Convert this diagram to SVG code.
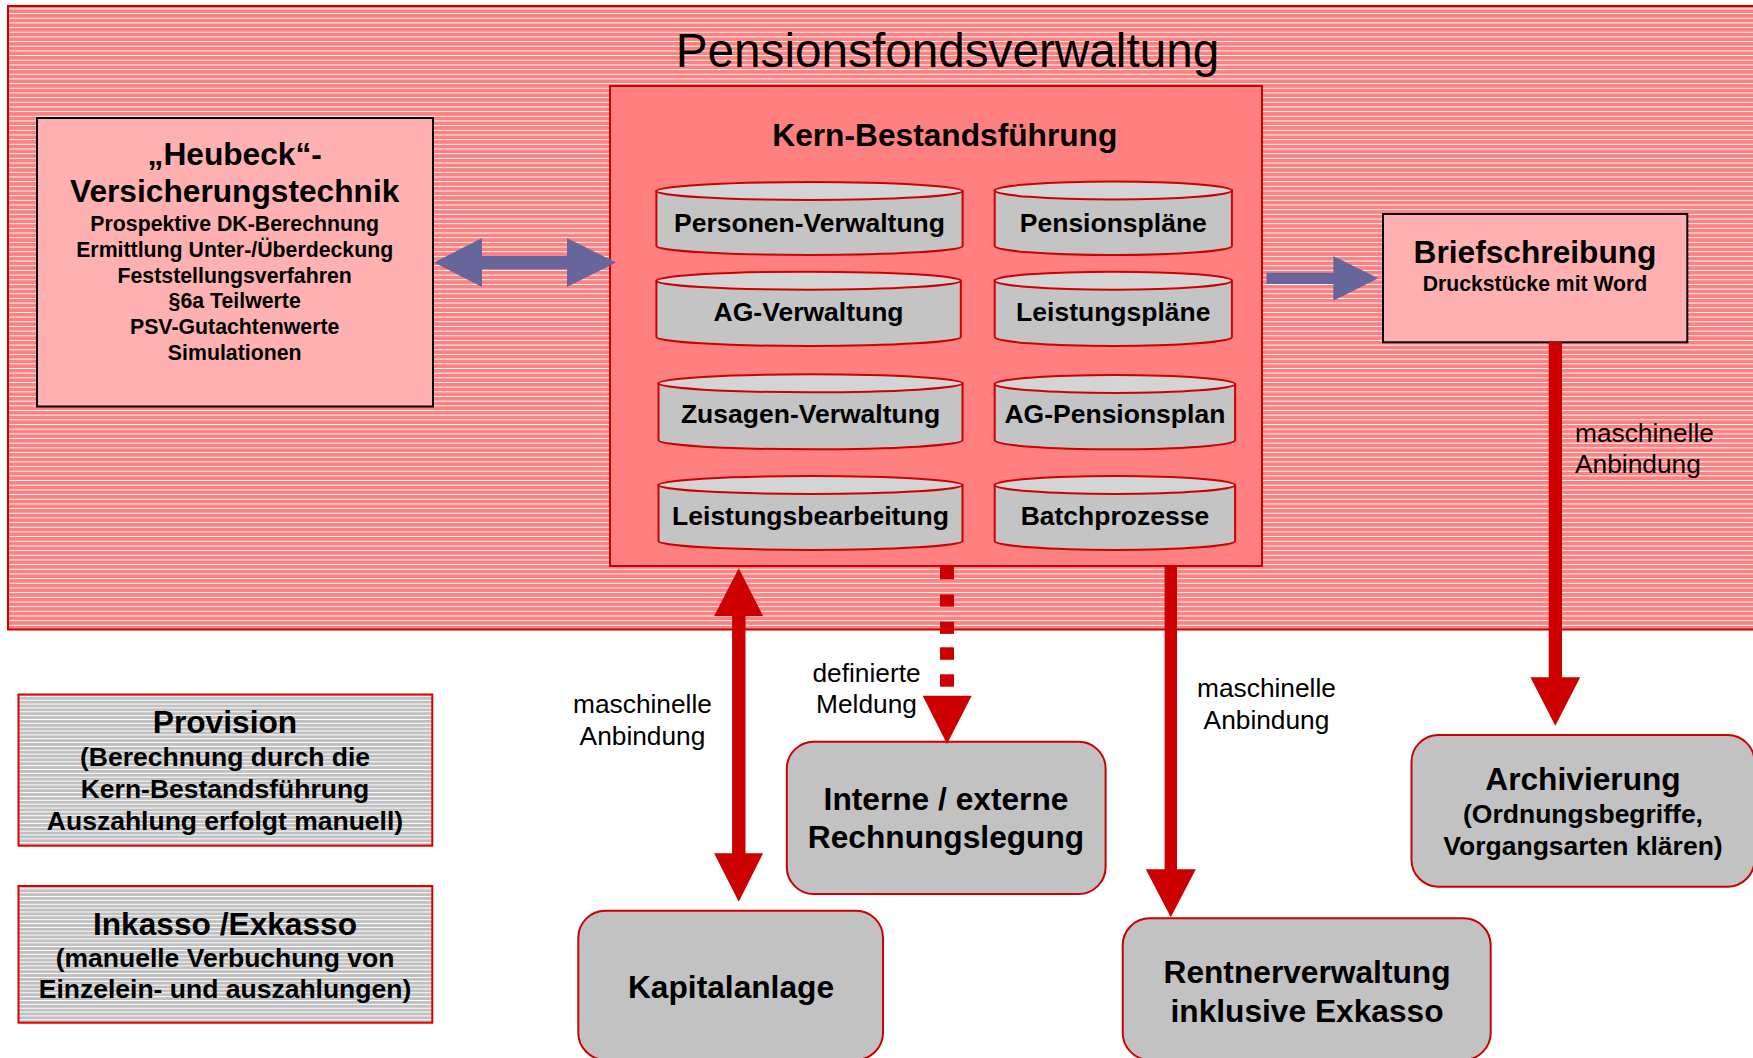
<svg xmlns="http://www.w3.org/2000/svg" width="1753" height="1058" viewBox="0 0 1753 1058">
<defs>
  <pattern id="hatchRed" patternUnits="userSpaceOnUse" x="0" y="0" width="20" height="4.67">
    <rect width="20" height="4.67" fill="#FF8080" shape-rendering="crispEdges"/>
    <rect y="3.4" width="20" height="1.1" fill="#FFFFFF" shape-rendering="crispEdges"/>
  </pattern>
  <pattern id="hatchGray" patternUnits="userSpaceOnUse" x="0" y="0" width="20" height="3.85">
    <rect width="20" height="3.85" fill="#C0C0C0" shape-rendering="crispEdges"/>
    <rect y="2.8" width="20" height="1" fill="#FFFFFF" shape-rendering="crispEdges"/>
  </pattern>
  <style>
    text { font-family: "Liberation Sans", Arial, Helvetica, sans-serif; fill: #000; text-anchor: middle; }
    .h { font-size: 31.7px; font-weight: bold; }
    .sub { font-size: 21.3px; font-weight: bold; }
    .s26 { font-size: 26.5px; font-weight: bold; }
    .lbl { font-size: 26.3px; font-weight: normal; }
    .cylBody { fill: #C4C4C4; stroke: #CC0000; stroke-width: 2; }
    .cylTop { fill: #D4D4D4; stroke: #CC0000; stroke-width: 2; }
    .pinkBox { fill: #FFB0B0; stroke: #000; stroke-width: 2; }
    .grayBox { fill: url(#hatchGray); stroke: #DD0000; stroke-width: 2; }
    .round { fill: #C2C2C2; stroke: #CC0000; stroke-width: 2; }
    .blue { fill: #66669C; }
    .red { fill: #CC0000; }
  </style>
</defs>

<rect width="1753" height="1058" fill="#FFFFFF"/>

<g id="pensionsfondsverwaltung">
  <rect x="8" y="6" width="1760" height="623.5" fill="url(#hatchRed)" stroke="#CC0000" stroke-width="2"/>
  <text x="947.5" y="66.7" style="font-size:47.7px">Pensionsfondsverwaltung</text>
</g>

<g id="heubeck">
  <rect class="pinkBox" x="37" y="118" width="396" height="288.5"/>
  <text class="h" x="234.7" y="165">„Heubeck“-</text>
  <text class="h" x="234.7" y="202.3">Versicherungstechnik</text>
  <text class="sub" x="234.7" y="230.5">Prospektive DK-Berechnung</text>
  <text class="sub" x="234.7" y="256.5">Ermittlung Unter-/Überdeckung</text>
  <text class="sub" x="234.7" y="282.5">Feststellungsverfahren</text>
  <text class="sub" x="234.7" y="308.3">§6a Teilwerte</text>
  <text class="sub" x="234.7" y="334">PSV-Gutachtenwerte</text>
  <text class="sub" x="234.7" y="359.5">Simulationen</text>
</g>

<g id="kern-bestandsfuehrung">
  <rect x="610" y="86" width="652" height="480" fill="#FF8080" stroke="#CC0000" stroke-width="2"/>
  <text class="h" x="944.8" y="145.7">Kern-Bestandsführung</text>
</g>

<g id="cyl-personen">
  <path class="cylBody" d="M656.4,191 L656.4,246 A153.1,9 0 0 0 962.6,246 L962.6,191 Z"/>
  <ellipse class="cylTop" cx="809.5" cy="191" rx="153.1" ry="9"/>
  <text class="s26" x="809.5" y="231.7">Personen-Verwaltung</text>
</g>
<g id="cyl-pensionsplaene">
  <path class="cylBody" d="M994.7,190.5 L994.7,246 A118.6,9 0 0 0 1231.9,246 L1231.9,190.5 Z"/>
  <ellipse class="cylTop" cx="1113.3" cy="190.5" rx="118.6" ry="9"/>
  <text class="s26" x="1113.3" y="231.7">Pensionspläne</text>
</g>
<g id="cyl-ag-verwaltung">
  <path class="cylBody" d="M656.4,280.7 L656.4,337 A152.2,9 0 0 0 960.8,337 L960.8,280.7 Z"/>
  <ellipse class="cylTop" cx="808.6" cy="280.7" rx="152.2" ry="9"/>
  <text class="s26" x="808.6" y="320.7">AG-Verwaltung</text>
</g>
<g id="cyl-leistungsplaene">
  <path class="cylBody" d="M994.7,280.7 L994.7,337 A118.6,9 0 0 0 1231.9,337 L1231.9,280.7 Z"/>
  <ellipse class="cylTop" cx="1113.3" cy="280.7" rx="118.6" ry="9"/>
  <text class="s26" x="1113.3" y="320.7">Leistungspläne</text>
</g>
<g id="cyl-zusagen">
  <path class="cylBody" d="M658.5,383.3 L658.5,440.3 A152,9 0 0 0 962.5,440.3 L962.5,383.3 Z"/>
  <ellipse class="cylTop" cx="810.5" cy="383.3" rx="152" ry="9"/>
  <text class="s26" x="810.5" y="423.3">Zusagen-Verwaltung</text>
</g>
<g id="cyl-ag-pensionsplan">
  <path class="cylBody" d="M994.7,384 L994.7,440.3 A120.2,9 0 0 0 1235.1,440.3 L1235.1,384 Z"/>
  <ellipse class="cylTop" cx="1114.9" cy="384" rx="120.2" ry="9"/>
  <text class="s26" x="1114.9" y="423.3">AG-Pensionsplan</text>
</g>
<g id="cyl-leistungsbearbeitung">
  <path class="cylBody" d="M658.5,485 L658.5,541 A152,9 0 0 0 962.5,541 L962.5,485 Z"/>
  <ellipse class="cylTop" cx="810.5" cy="485" rx="152" ry="9"/>
  <text class="s26" x="810.5" y="525">Leistungsbearbeitung</text>
</g>
<g id="cyl-batchprozesse">
  <path class="cylBody" d="M994.7,485 L994.7,541 A120.2,9 0 0 0 1235.1,541 L1235.1,485 Z"/>
  <ellipse class="cylTop" cx="1114.9" cy="485" rx="120.2" ry="9"/>
  <text class="s26" x="1114.9" y="525">Batchprozesse</text>
</g>

<g id="briefschreibung">
  <rect class="pinkBox" x="1383" y="214" width="304.3" height="128.3"/>
  <text class="h" x="1535" y="263.3">Briefschreibung</text>
  <text class="sub" x="1535" y="291" style="font-size:21.2px">Druckstücke mit Word</text>
</g>

<g id="provision">
  <rect class="grayBox" x="18.5" y="694.5" width="413.8" height="151.2"/>
  <text class="h" x="225" y="733.3">Provision</text>
  <text class="s26" x="225" y="766">(Berechnung durch die</text>
  <text class="s26" x="225" y="798.3">Kern-Bestandsführung</text>
  <text class="s26" x="225" y="830">Auszahlung erfolgt manuell)</text>
</g>

<g id="inkasso-exkasso">
  <rect class="grayBox" x="18.5" y="886" width="413.8" height="136.7"/>
  <text class="h" x="225" y="935">Inkasso /Exkasso</text>
  <text class="s26" x="225" y="966.7">(manuelle Verbuchung von</text>
  <text class="s26" x="225" y="998.3">Einzelein- und auszahlungen)</text>
</g>

<g id="rechnungslegung">
  <rect class="round" x="786.8" y="741.7" width="318.8" height="152.3" rx="27" ry="27"/>
  <text class="h" x="946" y="810">Interne / externe</text>
  <text class="h" x="946" y="848.3">Rechnungslegung</text>
</g>

<g id="kapitalanlage">
  <rect class="round" x="578.3" y="910.7" width="304.7" height="149" rx="27" ry="27"/>
  <text class="h" x="731" y="998.3">Kapitalanlage</text>
</g>

<g id="rentnerverwaltung">
  <rect class="round" x="1122.7" y="918.3" width="368" height="141.5" rx="27" ry="27"/>
  <text class="h" x="1307" y="983.3">Rentnerverwaltung</text>
  <text class="h" x="1307" y="1021.7">inklusive Exkasso</text>
</g>

<g id="archivierung">
  <rect class="round" x="1411.5" y="735" width="343" height="151.7" rx="27" ry="27"/>
  <text class="h" x="1583" y="790">Archivierung</text>
  <text class="s26" x="1583" y="823.3">(Ordnungsbegriffe,</text>
  <text class="s26" x="1583" y="855">Vorgangsarten klären)</text>
</g>

<g id="connectors">
  <polygon class="blue" points="434,262.5 482,238 482,256 567,256 567,238 616,262.5 567,287 567,269.3 482,269.3 482,287"/>
  <polygon class="blue" points="1266.5,272.7 1333.3,272.7 1333.3,256 1378.3,278.3 1333.3,300.7 1333.3,284 1266.5,284"/>
  <polygon class="red" points="738.8,568.3 763.1,616 745.5,616 745.5,853.3 763.1,853.3 738.8,901.7 714.1,853.3 732.1,853.3 732.1,616 714.1,616"/>
  <g class="red">
    <rect x="940" y="566.7" width="14" height="12.6"/>
    <rect x="940" y="594.5" width="14" height="12.2"/>
    <rect x="940" y="621.7" width="14" height="12.2"/>
    <rect x="940" y="647.3" width="14" height="12.5"/>
    <rect x="940" y="674.3" width="14" height="12.4"/>
    <polygon points="922.7,695.7 971.7,695.7 947,744"/>
  </g>
  <polygon class="red" points="1164.6,566 1177,566 1177,869.3 1195.8,869.3 1170.8,917.3 1145.8,869.3 1164.6,869.3"/>
  <polygon class="red" points="1548.7,342 1562,342 1562,677.3 1580.2,677.3 1555.3,725.7 1530.4,677.3 1548.7,677.3"/>
  <text class="lbl" x="642.5" y="713.3">maschinelle</text>
  <text class="lbl" x="642.5" y="745">Anbindung</text>
  <text class="lbl" x="866.5" y="681.7">definierte</text>
  <text class="lbl" x="866.5" y="713.3">Meldung</text>
  <text class="lbl" x="1266.5" y="697.3">maschinelle</text>
  <text class="lbl" x="1266.5" y="729.3">Anbindung</text>
  <text class="lbl" x="1575" y="441.7" style="text-anchor:start">maschinelle</text>
  <text class="lbl" x="1575" y="473.3" style="text-anchor:start">Anbindung</text>
</g>
</svg>
